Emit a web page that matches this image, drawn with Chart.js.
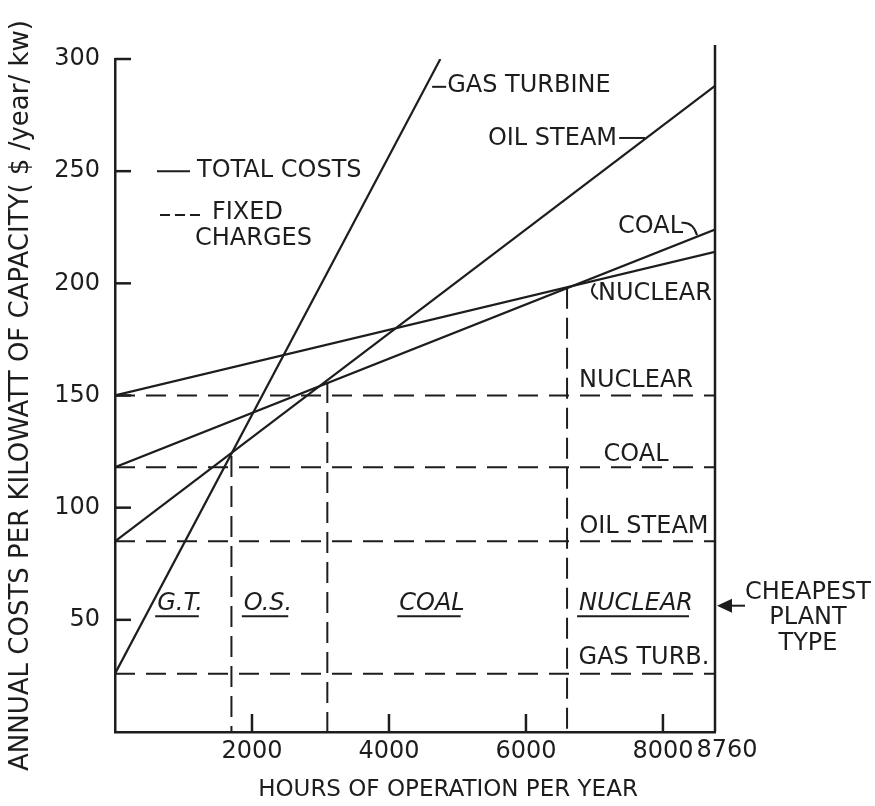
<!DOCTYPE html>
<html>
<head>
<meta charset="utf-8">
<script src="https://cdn.jsdelivr.net/npm/chart.js@4.4.1/dist/chart.umd.min.js"></script>
<style>
    html, body { margin: 0; padding: 0; background: #ffffff; }
    #wrap { width: 875px; height: 806px; }
</style>
</head>
<body>
<div id="wrap"><canvas id="chart-costs" width="875" height="806"></canvas></div>
<script>
// Total cost lines: value at 0 h and at the end of each line
const plantTypes = ['GAS TURBINE', 'OIL STEAM', 'COAL', 'NUCLEAR'];
const hoursEnd = [4750, 8760, 8760, 8760];
const costAtStart = [26, 85, 118, 150];
const costAtEnd = [300, 288, 224, 214];

// Fixed charges (dashed horizontals), same order as plantTypes
const fixedCharges = [26, 85, 118, 150];

// Breakeven points where the cheapest plant type changes
const breakevenHours = [1700, 3100, 6600];
const breakevenCost = [123, 156, 198];

const xTickValues = [2000, 4000, 6000, 8000];
const xEndLabel = 8760;
const yTickValues = [0, 50, 100, 150, 200, 250, 300];

const ink = '#1d1d1d';
const fontFamily = "'DejaVu Sans', 'Liberation Sans', sans-serif";

const datasets = [];
plantTypes.forEach((name, i) => {
    datasets.push({
        label: name,
        data: [{ x: 0, y: costAtStart[i] }, { x: hoursEnd[i], y: costAtEnd[i] }],
        showLine: true,
        borderColor: ink,
        borderWidth: 2.2,
        pointRadius: 0
    });
});
fixedCharges.forEach((v, i) => {
    datasets.push({
        label: 'Fixed ' + plantTypes[i],
        data: [{ x: 0, y: v }, { x: 8760, y: v }],
        showLine: true,
        borderColor: ink,
        borderWidth: 2,
        borderDash: [20, 11],
        pointRadius: 0
    });
});
breakevenHours.forEach((h, i) => {
    datasets.push({
        label: 'Breakeven ' + (i + 1),
        data: [{ x: h, y: breakevenCost[i] }, { x: h, y: 0 }],
        showLine: true,
        borderColor: ink,
        borderWidth: 2,
        borderDash: [21, 9],
        pointRadius: 0
    });
});

// text placed in data units
const labels = [
    { text: 'GAS TURBINE', x: 4850, y: 288, align: 'left' },
    { text: 'OIL STEAM', x: 7330, y: 264.5, align: 'right' },
    { text: 'COAL', x: 7344, y: 225, align: 'left' },
    { text: 'NUCLEAR', x: 7052, y: 195.5, align: 'left' },
    { text: 'NUCLEAR', x: 7607, y: 156.5, align: 'center' },
    { text: 'COAL', x: 7607, y: 123.5, align: 'center' },
    { text: 'OIL STEAM', x: 7723, y: 91.5, align: 'center' },
    { text: 'GAS TURB.', x: 7723, y: 33, align: 'center' },
    { text: 'TOTAL COSTS', x: 1197, y: 250, align: 'left' },
    { text: 'FIXED', x: 1416, y: 231.5, align: 'left' },
    { text: 'CHARGES', x: 1168, y: 220, align: 'left' }
];
const regionLabels = [
    { text: 'G.T.', x: 949 },
    { text: 'O.S.', x: 2234 },
    { text: 'COAL', x: 4628 },
    { text: 'NUCLEAR', x: 7607 }
];

const decorations = {
    id: 'decorations',
    afterDraw(chart) {
        const { ctx, chartArea: a, scales: { x, y } } = chart;
        const px = v => x.getPixelForValue(v);
        const py = v => y.getPixelForValue(v);
        const seg = (x1, y1, x2, y2) => {
            ctx.beginPath();
            ctx.moveTo(x1, y1);
            ctx.lineTo(x2, y2);
            ctx.stroke();
        };

        ctx.save();
        ctx.strokeStyle = ink;
        ctx.fillStyle = ink;
        ctx.lineWidth = 2.5;

        // ticks point into the plot
        yTickValues.filter(v => v > 0).forEach(v => seg(a.left, py(v), a.left + 16, py(v)));
        xTickValues.forEach(v => seg(px(v), a.bottom, px(v), a.bottom - 18));

        // right edge at 8760 h, runs above the top
        seg(a.right, a.bottom, a.right, a.top - 14);

        ctx.textBaseline = 'middle';
        ctx.font = '24px ' + fontFamily;
        ctx.textAlign = 'center';
        ctx.fillText(String(xEndLabel), px(xEndLabel) + 12, a.bottom + 19);

        ctx.lineWidth = 2;
        labels.forEach(l => {
            ctx.textAlign = l.align;
            ctx.fillText(l.text, px(l.x), py(l.y));
        });

        // leaders to lines
        seg(px(4630), py(287.6), px(4835), py(287.6));
        seg(px(7360), py(264.8), px(7740), py(264.8));
        ctx.beginPath();
        ctx.moveTo(px(8270), py(227));
        ctx.quadraticCurveTo(px(8440), py(227.5), px(8497), py(221.5));
        ctx.stroke();
        ctx.beginPath();
        ctx.moveTo(px(7010), py(200));
        ctx.quadraticCurveTo(px(6900), py(196), px(7052), py(193));
        ctx.stroke();

        // legend samples
        seg(px(613), py(250), px(1095), py(250));
        ctx.save();
        ctx.setLineDash([10, 5]);
        seg(px(657), py(230.5), px(1241), py(230.5));
        ctx.restore();

        // cheapest plant type, italic and underlined
        ctx.font = 'italic 24px ' + fontFamily;
        ctx.textAlign = 'center';
        regionLabels.forEach(r => {
            const w = ctx.measureText(r.text).width;
            const cx = px(r.x);
            ctx.fillText(r.text, cx, py(57));
            seg(cx - w / 2 - 2, py(51.6), cx + w / 2 - 4, py(51.6));
        });

        // arrow and side note
        const ay = py(56.3);
        ctx.beginPath();
        ctx.moveTo(a.right + 2, ay);
        ctx.lineTo(a.right + 17, ay - 7);
        ctx.lineTo(a.right + 17, ay + 7);
        ctx.closePath();
        ctx.fill();
        seg(a.right + 15, ay, a.right + 30, ay);
        ctx.font = '24px ' + fontFamily;
        ctx.textAlign = 'left';
        ctx.fillText('CHEAPEST', a.right + 30, ay - 13);
        ctx.textAlign = 'center';
        ctx.fillText('PLANT', a.right + 93, ay + 12);
        ctx.fillText('TYPE', a.right + 93, ay + 38);

        // x axis title
        ctx.font = '23px ' + fontFamily;
        ctx.fillText('HOURS OF OPERATION PER YEAR', 448, 790);
        ctx.restore();
    }
};

new Chart(document.getElementById('chart-costs'), {
    type: 'scatter',
    data: { datasets },
    options: {
        responsive: false,
        animation: false,
        devicePixelRatio: 1,
        layout: { padding: { left: 0, top: 59, right: 160, bottom: 0 } },
        plugins: {
            legend: { display: false },
            tooltip: { enabled: false }
        },
        scales: {
            x: {
                type: 'linear',
                min: 0,
                max: 8760,
                afterFit: scale => { scale.height = 74; },
                afterBuildTicks: scale => { scale.ticks = xTickValues.map(v => ({ value: v })); },
                grid: { display: false, drawTicks: false },
                border: { display: true, color: ink, width: 2.5 },
                ticks: {
                    autoSkip: false,
                    maxRotation: 0,
                    padding: 5,
                    color: ink,
                    font: { family: fontFamily, size: 24 },
                    callback: v => String(v)
                }
            },
            y: {
                min: 0,
                max: 300,
                afterFit: scale => { scale.width = 115; },
                afterBuildTicks: scale => { scale.ticks = yTickValues.map(v => ({ value: v })); },
                grid: { display: false, drawTicks: false },
                border: { display: true, color: ink, width: 2.5 },
                ticks: {
                    padding: 15,
                    color: ink,
                    font: { family: fontFamily, size: 24 },
                    callback: v => (v === 0 ? '' : String(v))
                },
                title: {
                    display: true,
                    text: 'ANNUAL COSTS PER KILOWATT OF CAPACITY( $ /year/ kw)',
                    color: ink,
                    padding: { top: 6, bottom: 0 },
                    font: { family: fontFamily, size: 26 }
                }
            }
        }
    },
    plugins: [decorations]
});
</script>
</body>
</html>
